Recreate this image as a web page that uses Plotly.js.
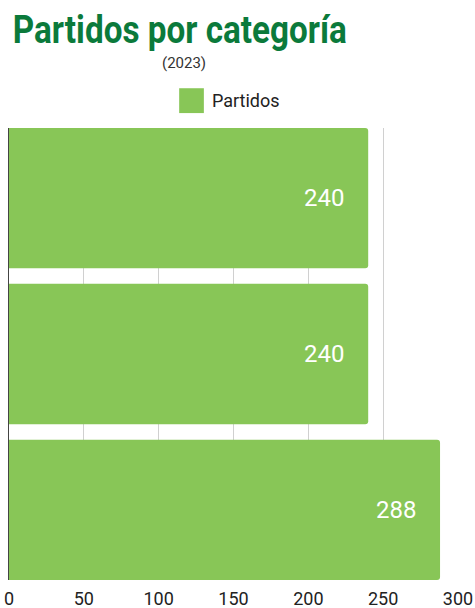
<!DOCTYPE html>
<html><head><meta charset="utf-8">
<script src="https://cdn.plot.ly/plotly-3.0.1.min.js"></script>
<style>html,body{margin:0;padding:0;background:#fff}#chart{width:475px;height:608px}</style>
</head><body><div id="chart"></div>
<script>
const categories = ["Categoría 1", "Categoría 2", "Categoría 3"];
const partidos = [240, 240, 288];
const xTicks = [0, 50, 100, 150, 200, 250, 300];
const seriesName = "Partidos";
const titleText = "Partidos por categoría";
const subtitleText = "(2023)";

const font = "Roboto, 'Noto Sans', sans-serif";
const green = "#88c657";

const trace = {
  type: "bar", orientation: "h",
  y: categories, x: partidos,
  name: seriesName,
  marker: {color: green},
  showlegend: false,
  hoverinfo: "x"
};

const annotations = partidos.map((v, i) => ({
  x: v, y: categories[i], xref: "x", yref: "y",
  text: String(v), showarrow: false, xanchor: "right", xshift: -22,
  font: {family: font, size: 24, color: "#ffffff"}
}));
annotations.push({
  text: subtitleText, xref: "paper", yref: "paper", x: 0.39, y: 1.144,
  xanchor: "center", yanchor: "middle", showarrow: false,
  font: {family: font, size: 15, color: "#333333"}
});
annotations.push({
  text: seriesName, xref: "paper", yref: "paper", x: 0.448, y: 1.06,
  xanchor: "left", yanchor: "middle", showarrow: false,
  font: {family: font, size: 18, color: "#222222"}
});

const layout = {
  width: 475, height: 608,
  margin: {l: 9, r: 17, t: 128, b: 28},
  paper_bgcolor: "#ffffff", plot_bgcolor: "#ffffff",
  title: {text: "<b>" + titleText + "</b>", x: 0.027, xanchor: "left", xref: "container",
          y: 0.952, yanchor: "middle", yref: "container",
          font: {family: font, size: 39, color: "#0b7a3b"}},
  bargap: 0.1,
  xaxis: {range: [0, 300], tickvals: xTicks, ticktext: xTicks.map(String),
          showgrid: true, gridcolor: "#d0d0d0", gridwidth: 1, zeroline: false,
          showline: false, ticks: "", ticklabelstandoff: 6,
          tickfont: {family: font, size: 18, color: "#222222"}, fixedrange: true},
  yaxis: {categoryorder: "array", categoryarray: categories, autorange: false,
          range: [2.45, -0.45], showticklabels: false, showgrid: false, layer: "below traces",
          zeroline: false, showline: true, linecolor: "#444444", linewidth: 1, ticks: "", fixedrange: true},
  barcornerradius: 3,
  shapes: [{type: "rect", xref: "paper", yref: "paper", x0: 0.379, x1: 0.434, y0: 1.033, y1: 1.088,
            fillcolor: green, line: {width: 0}}],
  annotations: annotations
};
Plotly.newPlot("chart", [trace], layout, {displayModeBar: false, staticPlot: true}).then(gd => {
  const t = gd.querySelector(".gtitle");
  if (t) {
    t.setAttribute("textLength", "334");
    t.setAttribute("lengthAdjust", "spacingAndGlyphs");
  }
});
</script></body></html>
